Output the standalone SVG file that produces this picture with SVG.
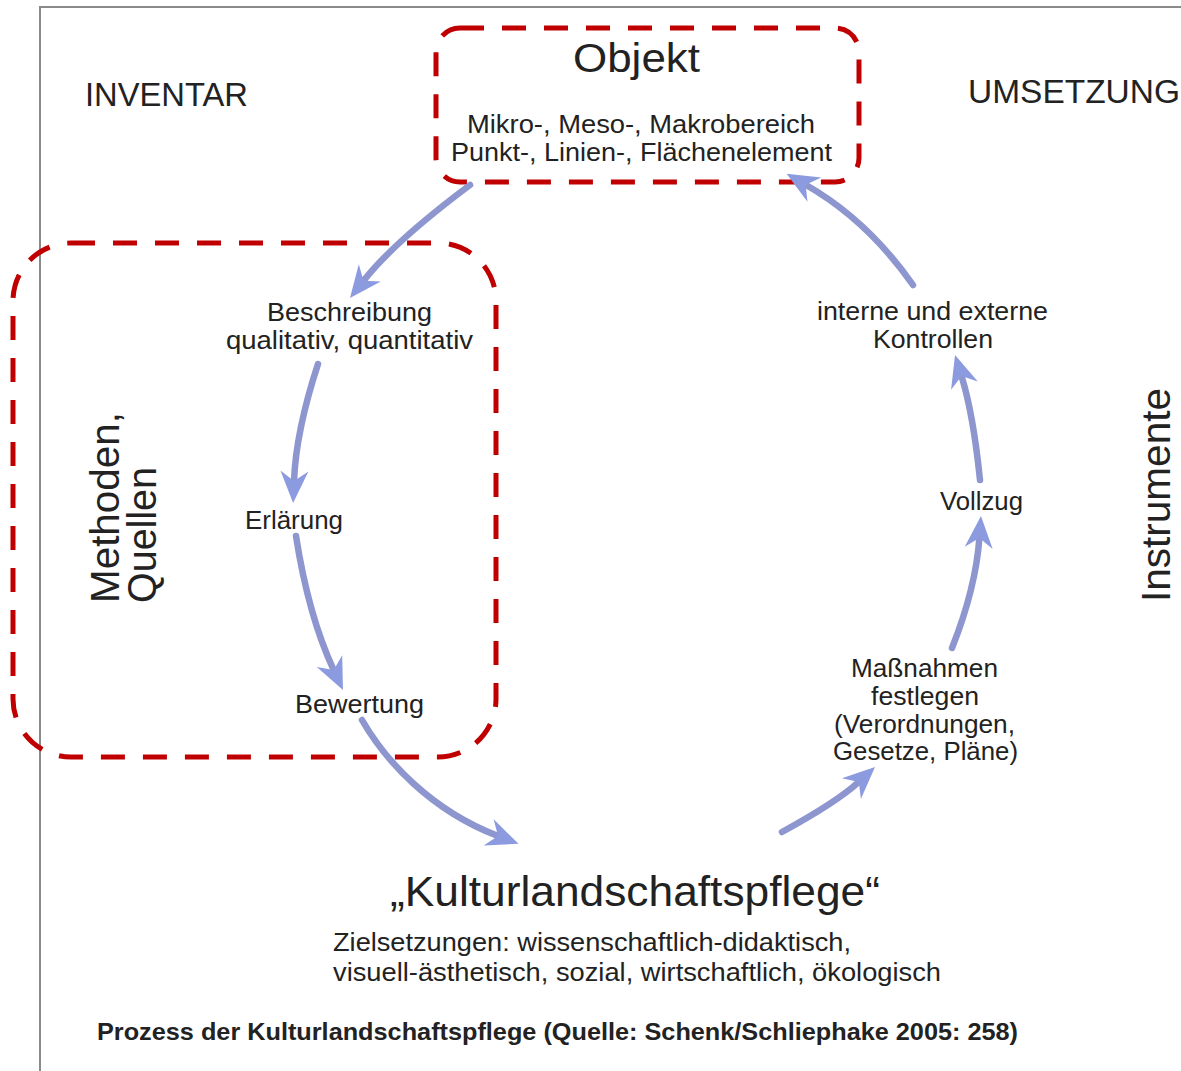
<svg xmlns="http://www.w3.org/2000/svg" width="1181" height="1071" viewBox="0 0 1181 1071">
<style>
  text { font-family: "Liberation Sans", Arial, Helvetica, sans-serif; fill: #222; }
  .hd { font-size: 34px; }
  .lb { font-size: 25px; }
  .big { font-size: 40px; }
  .dash { fill: none; stroke: #C00000; stroke-width: 5; stroke-dasharray: 24 18; }
  .arr { fill: none; stroke: #8E96D0; stroke-width: 6.5; stroke-linecap: round; marker-end: url(#head); }
</style>
<defs>
  <marker id="head" viewBox="-12 -16 40 32" markerWidth="40" markerHeight="32" refX="0" refY="0" orient="auto" markerUnits="userSpaceOnUse">
    <path d="M22,0 L-10,-14 L0,0 L-10,14 Z" fill="#8C9BE0"/>
  </marker>
</defs>
<rect width="1181" height="1071" fill="#ffffff"/>
<path d="M40,1071 V7 H1181" fill="none" stroke="#8a8a8a" stroke-width="2"/>

<g id="inventar"><text class="hd" x="85" y="106" textLength="163" lengthAdjust="spacingAndGlyphs">INVENTAR</text></g>
<g id="umsetzung"><text class="hd" x="968" y="103" textLength="212" lengthAdjust="spacingAndGlyphs">UMSETZUNG</text></g>

<g id="objekt">
  <rect class="dash" x="436" y="28" width="423" height="154" rx="24"/>
  <text class="big" x="573" y="72" textLength="127" lengthAdjust="spacingAndGlyphs">Objekt</text>
  <text class="lb" x="467" y="133" textLength="348" lengthAdjust="spacingAndGlyphs">Mikro-, Meso-, Makrobereich</text>
  <text class="lb" x="451" y="161" textLength="381" lengthAdjust="spacingAndGlyphs">Punkt-, Linien-, Flächenelement</text>
</g>

<g id="methoden">
  <rect class="dash" x="13" y="243" width="483" height="514" rx="58"/>
  <text class="big" transform="translate(119,603) rotate(-90)" textLength="191" lengthAdjust="spacingAndGlyphs">Methoden,</text>
  <text class="big" transform="translate(156,603) rotate(-90)" textLength="136" lengthAdjust="spacingAndGlyphs">Quellen</text>
</g>

<g id="beschreibung">
  <text class="lb" x="267" y="321" textLength="165" lengthAdjust="spacingAndGlyphs">Beschreibung</text>
  <text class="lb" x="226" y="349" textLength="247" lengthAdjust="spacingAndGlyphs">qualitativ, quantitativ</text>
</g>
<g id="erlaerung"><text class="lb" x="245" y="529" textLength="98" lengthAdjust="spacingAndGlyphs">Erlärung</text></g>
<g id="bewertung"><text class="lb" x="295" y="713" textLength="129" lengthAdjust="spacingAndGlyphs">Bewertung</text></g>

<g id="kontrollen">
  <text class="lb" x="817" y="320" textLength="231" lengthAdjust="spacingAndGlyphs">interne und externe</text>
  <text class="lb" x="873" y="348" textLength="120" lengthAdjust="spacingAndGlyphs">Kontrollen</text>
</g>
<g id="vollzug"><text class="lb" x="940" y="510" textLength="83" lengthAdjust="spacingAndGlyphs">Vollzug</text></g>
<g id="massnahmen">
  <text class="lb" x="851" y="677" textLength="147" lengthAdjust="spacingAndGlyphs">Maßnahmen</text>
  <text class="lb" x="871" y="705" textLength="108" lengthAdjust="spacingAndGlyphs">festlegen</text>
  <text class="lb" x="834" y="733" textLength="181" lengthAdjust="spacingAndGlyphs">(Verordnungen,</text>
  <text class="lb" x="833" y="760" textLength="185" lengthAdjust="spacingAndGlyphs">Gesetze, Pläne)</text>
</g>
<g id="instrumente"><text class="big" transform="translate(1170,602) rotate(-90)" textLength="214" lengthAdjust="spacingAndGlyphs">Instrumente</text></g>

<g id="kulturlandschaftspflege">
  <text style="font-size:42px" x="390" y="906" textLength="490" lengthAdjust="spacingAndGlyphs">„Kulturlandschaftspflege“</text>
  <text class="lb" x="333" y="951" textLength="518" lengthAdjust="spacingAndGlyphs">Zielsetzungen: wissenschaftlich-didaktisch,</text>
  <text class="lb" x="333" y="981" textLength="608" lengthAdjust="spacingAndGlyphs">visuell-ästhetisch, sozial, wirtschaftlich, ökologisch</text>
</g>

<g id="caption"><text style="font-size:24px;font-weight:bold" x="97" y="1040" textLength="921" lengthAdjust="spacingAndGlyphs">Prozess der Kulturlandschaftspflege (Quelle: Schenk/Schliephake 2005: 258)</text></g>

<g id="connectors">
  <path class="arr" d="M470,185 Q394.5,241.4 363.6,280.7"/>
  <path class="arr" d="M318,364 Q296,431 294,481"/>
  <path class="arr" d="M296,536 Q308.4,615.7 333.7,670.1"/>
  <path class="arr" d="M362,720 C385,760 430,810 498,836"/>
  <path class="arr" d="M782,832 Q836.7,802.2 858.8,781.9"/>
  <path class="arr" d="M952,648 Q975.8,587.8 979.4,537.9"/>
  <path class="arr" d="M980,480 Q973.3,414.2 961.5,376"/>
  <path class="arr" d="M913,285 C885,245 850,210 805.7,184.7"/>
</g>
</svg>
